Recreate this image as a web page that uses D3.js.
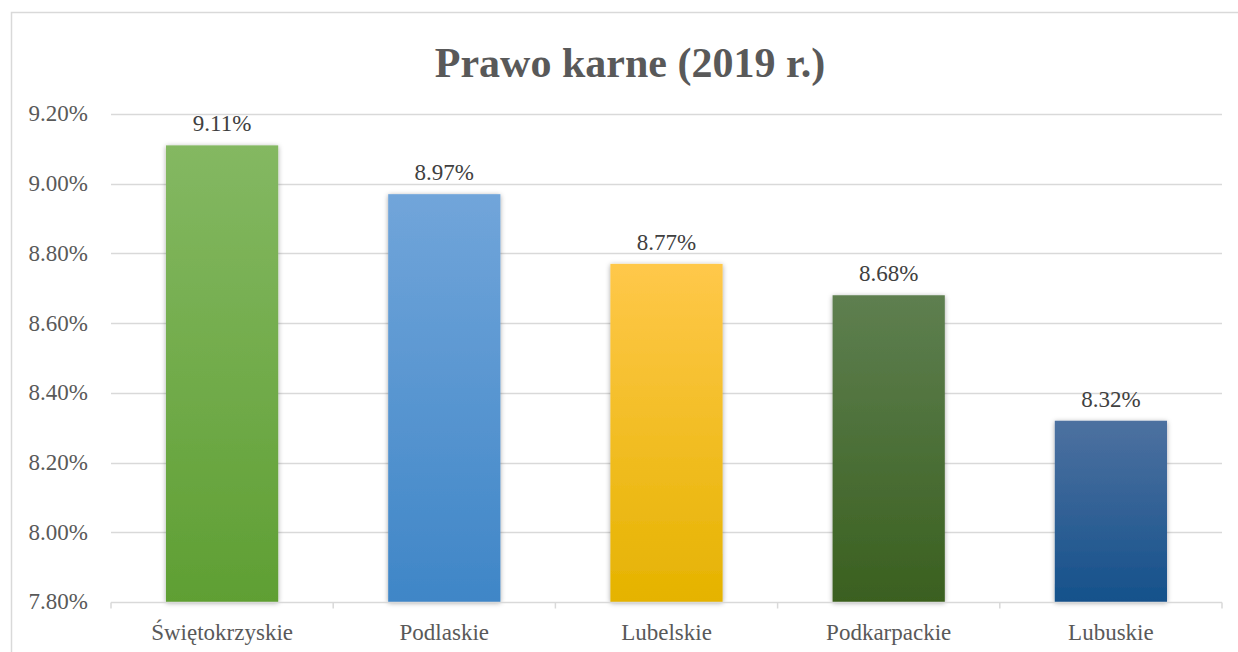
<!DOCTYPE html>
<html>
<head>
<meta charset="utf-8">
<script src="https://cdn.jsdelivr.net/npm/d3@7"></script>
<style>
  body { margin: 0; background: #fff; }
  svg text { font-family: "Liberation Serif", "Times New Roman", serif; }
</style>
</head>
<body>
<svg id="chart" width="1238" height="652"></svg>
<script>
// data
const regions = ["Świętokrzyskie", "Podlaskie", "Lubelskie", "Podkarpackie", "Lubuskie"]
const shares = [9.11, 8.97, 8.77, 8.68, 8.32]
const yTicks = [7.8, 8.0, 8.2, 8.4, 8.6, 8.8, 9.0, 9.2]
// top / bottom gradient stops per bar
const topColors = ["#84b862", "#71a5da", "#ffc84a", "#5e7f50", "#4d71a0"]
const bottomColors = ["#5f9f33", "#3f86c7", "#e5b300", "#3a601f", "#15518b"]

const svg = d3.select("#chart")
const margin = {left: 111, right: 16, top: 114, bottom: 50}
const width = 1238, height = 652

// chart frame
svg.append("rect")
  .attr("x", 11.5).attr("y", 12.5)
  .attr("width", 1240).attr("height", 660)
  .attr("fill", "#fff").attr("stroke", "#d9d9d9").attr("stroke-width", 1.5)

svg.append("text")
  .attr("x", 630).attr("y", 77)
  .attr("text-anchor", "middle")
  .attr("font-size", 42).attr("font-weight", "bold")
  .attr("fill", "#595959")
  .text("Prawo karne (2019 r.)")

const x = d3.scaleBand()
  .domain(regions)
  .range([margin.left, width - margin.right])
  .paddingInner(0.495).paddingOuter(0.2475)

const y = d3.scaleLinear()
  .domain([7.8, 9.2])
  .range([height - margin.bottom, margin.top])

const defs = svg.append("defs")
regions.forEach((r, i) => {
  const g = defs.append("linearGradient")
    .attr("id", "grad" + i).attr("x1", 0).attr("y1", 0).attr("x2", 0).attr("y2", 1)
  g.append("stop").attr("offset", "0%").attr("stop-color", topColors[i])
  g.append("stop").attr("offset", "100%").attr("stop-color", bottomColors[i])
})
const shadow = defs.append("filter").attr("id", "shadow")
  .attr("x", "-20%").attr("y", "-10%").attr("width", "140%").attr("height", "120%")
shadow.append("feDropShadow")
  .attr("dx", 0).attr("dy", 1).attr("stdDeviation", 2.5)
  .attr("flood-color", "#000").attr("flood-opacity", 0.35)

// gridlines
svg.append("g")
  .selectAll("line")
  .data(yTicks.slice(1))
  .join("line")
  .attr("x1", margin.left).attr("x2", width - margin.right)
  .attr("y1", d => Math.round(y(d)) + 0.5).attr("y2", d => Math.round(y(d)) + 0.5)
  .attr("stroke", "#d9d9d9").attr("stroke-width", 1.5)

// y axis labels
const yAxis = svg.append("g")
  .attr("transform", `translate(${margin.left},0)`)
  .call(d3.axisLeft(y).tickValues(yTicks).tickSize(0).tickPadding(23)
    .tickFormat(d => d.toFixed(2) + "%"))
yAxis.select(".domain").remove()
yAxis.selectAll("text").attr("font-size", 23).attr("fill", "#595959")
  .attr("dy", "0.3em")

// bars
svg.append("g")
  .selectAll("rect")
  .data(regions)
  .join("rect")
  .attr("x", d => x(d))
  .attr("width", x.bandwidth())
  .attr("y", (d, i) => y(shares[i]))
  .attr("height", (d, i) => y(7.8) - y(shares[i]))
  .attr("fill", (d, i) => `url(#grad${i})`)
  .attr("filter", "url(#shadow)")

// x axis with ticks at band boundaries
const base = Math.round(y(7.8)) + 0.5
svg.append("line")
  .attr("x1", margin.left).attr("x2", width - margin.right)
  .attr("y1", base).attr("y2", base)
  .attr("stroke", "#d9d9d9").attr("stroke-width", 1.5)
const bounds = d3.range(regions.length + 1).map(i => margin.left + i * (width - margin.left - margin.right) / regions.length)
svg.append("g")
  .selectAll("line")
  .data(bounds)
  .join("line")
  .attr("x1", d => d).attr("x2", d => d)
  .attr("y1", base).attr("y2", base + 6)
  .attr("stroke", "#d9d9d9").attr("stroke-width", 1.5)

svg.append("g")
  .selectAll("text")
  .data(regions)
  .join("text")
  .attr("x", d => x(d) + x.bandwidth() / 2)
  .attr("y", base + 37)
  .attr("text-anchor", "middle")
  .attr("font-size", 23).attr("fill", "#595959")
  .text(d => d)

// data labels
svg.append("g")
  .selectAll("text")
  .data(regions)
  .join("text")
  .attr("x", d => x(d) + x.bandwidth() / 2)
  .attr("y", (d, i) => y(shares[i]) - 14)
  .attr("text-anchor", "middle")
  .attr("font-size", 23).attr("fill", "#404040")
  .text((d, i) => shares[i].toFixed(2) + "%")
</script>
</body>
</html>
